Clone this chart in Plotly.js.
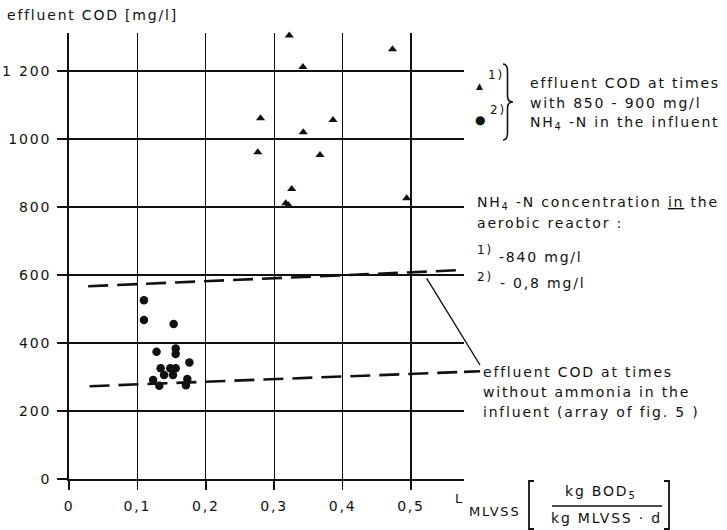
<!DOCTYPE html>
<html><head><meta charset="utf-8">
<script src="https://cdn.plot.ly/plotly-3.0.1.min.js"></script>
<style>
html,body{margin:0;padding:0;background:#fff;}
#chart{width:727px;height:530px;}
svg text{letter-spacing:1.8px;}
</style></head><body><div id="chart"></div>
<script>
// ---- data ----
const xTickVals = [0, 0.1, 0.2, 0.3, 0.4, 0.5];
const xTickText = ["0", "0,1", "0,2", "0,3", "0,4", "0,5"];
const yTickVals = [0, 200, 400, 600, 800, 1000, 1200];
const yTickText = ["0", "200", "400", "600", "800", "1000", "1 200"];

// 1) triangles: NH4-N in aerobic reactor ~840 mg/l
const triX = [0.322, 0.342, 0.473, 0.280, 0.386, 0.3425, 0.276, 0.367, 0.3256, 0.317, 0.321, 0.4937];
const triY = [1305, 1212, 1264, 1061, 1056, 1020, 961, 953, 853, 811, 805, 826];

// 2) dots: NH4-N in aerobic reactor ~0,8 mg/l
const dotX = [0.1096, 0.1096, 0.153, 0.156, 0.156, 0.128, 0.176, 0.134, 0.139, 0.148, 0.152, 0.156, 0.123, 0.132, 0.173, 0.171];
const dotY = [526, 468, 456, 384, 368, 374, 343, 326, 306, 326, 306, 326, 291, 274, 294, 276];

// dashed band: effluent COD without ammonia in the influent
const bandHighX = [0.028, 0.567];
const bandHighY = [567, 614];
const bandLowX = [0.030, 0.601];
const bandLowY = [273, 317];

// ---- layout geometry ----
const pxPerUnitY = 0.34;
const xMax = 0.5775, yMax = 1312;
const L = 69, W = 395, B0 = 479;
const H = Math.round(yMax * pxPerUnitY), T = B0 - H;
const px = x => (x - L) / W;
const py = y => (T + H - y) / H;
const FONT = "DejaVu Sans";
const INK = "#111";

function txt(x, y, text, opts) {
  return Object.assign({
    xref: "paper", yref: "paper", x: px(x), y: py(y), text: text,
    showarrow: false, xanchor: "left", yanchor: "middle", borderpad: 0,
    font: {family: FONT, size: 14, color: INK}
  }, opts || {});
}
function pathShape(pts, width) {
  const d = pts.map((p, i) => (i ? "L" : "M") + px(p[0]).toFixed(5) + "," + py(p[1]).toFixed(5)).join(" ");
  return {type: "path", xref: "paper", yref: "paper", path: d, line: {color: INK, width: width || 1.5}};
}
function braceShape(x0, xm, xt, y0, y1) {
  const ym = (y0 + y1) / 2;
  const q = (a, b) => px(a).toFixed(5) + "," + py(b).toFixed(5);
  const d = "M" + q(x0, y0) + " Q" + q(xm, y0) + " " + q(xm, y0 + 7) +
    " L" + q(xm, ym - 6) + " Q" + q(xm, ym) + " " + q(xt, ym) +
    " Q" + q(xm, ym) + " " + q(xm, ym + 6) +
    " L" + q(xm, y1 - 7) + " Q" + q(xm, y1) + " " + q(x0, y1);
  return {type: "path", xref: "paper", yref: "paper", path: d, line: {color: INK, width: 1.6}};
}

const dashStyle = {color: INK, width: 2.6, dash: "20px,9px"};
const traces = [
  {x: bandHighX, y: bandHighY, mode: "lines", line: dashStyle, hoverinfo: "skip"},
  {x: bandLowX, y: bandLowY, mode: "lines", line: dashStyle, hoverinfo: "skip"},
  {x: triX, y: triY, mode: "markers", cliponaxis: false,
   marker: {symbol: "triangle-up", size: 8, color: INK}},
  {x: dotX, y: dotY, mode: "markers", cliponaxis: false,
   marker: {symbol: "circle", size: 8.5, color: INK}}
];

// continuation of lower dashed line beyond the plot frame (from data arrays)
const slope = (bandLowY[1] - bandLowY[0]) / (bandLowX[1] - bandLowX[0]);
const yAtEdge = bandLowY[0] + slope * (xMax - bandLowX[0]);

const shapes = [
  {type: "line", xref: "paper", yref: "paper", x0: 1, y0: yAtEdge / yMax,
   x1: bandLowX[1] / xMax, y1: bandLowY[1] / yMax, line: {color: INK, width: 2.6}},
  // leader from upper dashed line to label
  pathShape([[426.7, 278.3], [480, 365]], 1.4),
  // legend brace
  braceShape(503, 507.5, 513, 64, 140),
  // unit brackets
  pathShape([[534, 481], [529, 481], [529, 529], [534, 529]], 1.8),
  pathShape([[664, 481], [669, 481], [669, 529], [664, 529]], 1.8),
  // fraction bar
  pathShape([[552, 506], [662, 506]], 1.6)
];

const annotations = [
  txt(6, 15.5, "effluent COD [mg/l]"),
  // legend
  txt(480.7, 86, "▲", {xanchor: "center", font: {family: FONT, size: 9, color: INK}}),
  txt(480.7, 120.5, "●", {xanchor: "center", font: {family: FONT, size: 12, color: INK}}),
  txt(487, 75, "1)", {font: {family: FONT, size: 12, color: INK}}),
  txt(489, 110, "2)", {font: {family: FONT, size: 12, color: INK}}),
  txt(529, 83, "effluent COD at times"),
  txt(529, 103, "with 850 - 900 mg/l"),
  txt(529, 123, "NH<sub>4</sub> -N in the influent"),
  // reactor concentration
  txt(476, 203, "NH<sub>4</sub> -N concentration <u>in</u> the"),
  txt(476, 223, "aerobic reactor :"),
  txt(476, 250, "1)", {font: {family: FONT, size: 12, color: INK}}),
  txt(498, 257, "-840 mg/l"),
  txt(476, 277, "2)", {font: {family: FONT, size: 12, color: INK}}),
  txt(499, 283, "- 0,8 mg/l"),
  // band label
  txt(482, 372, "effluent COD at times"),
  txt(482, 392, "without ammonia in the"),
  txt(482, 412, "influent (array of fig. 5 )"),
  // x axis title
  txt(454, 499, "L", {font: {family: FONT, size: 13, color: INK}}),
  txt(468, 511, "MLVSS", {font: {family: FONT, size: 13, color: INK}}),
  txt(600, 492, "kg BOD<sub>5</sub>", {xanchor: "center"}),
  txt(606, 518, "kg MLVSS · d", {xanchor: "center"})
];

const axisCommon = {
  showgrid: true, gridcolor: INK, gridwidth: 1.3,
  showline: true, linecolor: INK, linewidth: 2,
  zeroline: false, ticks: "outside", tickcolor: INK, tickwidth: 1.5,
  tickfont: {family: FONT, size: 14, color: INK}, tickmode: "array", fixedrange: true
};

const layout = {
  width: 727, height: 530,
  margin: {l: L, r: 727 - L - W, t: T, b: 530 - B0, pad: 0},
  paper_bgcolor: "#fff", plot_bgcolor: "#fff",
  showlegend: false,
  xaxis: Object.assign({}, axisCommon, {range: [0, xMax], tickvals: xTickVals, ticktext: xTickText, ticklen: 9, ticklabelstandoff: 4}),
  yaxis: Object.assign({}, axisCommon, {range: [0, yMax], tickvals: yTickVals, ticktext: yTickText, ticklen: 10, ticklabelstandoff: 3}),
  shapes: shapes,
  annotations: annotations
};

Plotly.newPlot("chart", traces, layout, {displayModeBar: false, staticPlot: true});
</script></body></html>
